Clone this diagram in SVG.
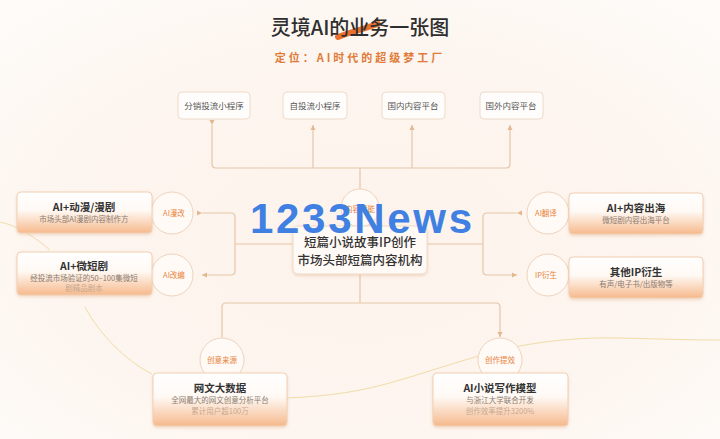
<svg xmlns="http://www.w3.org/2000/svg" width="720" height="439" viewBox="0 0 720 439">
<defs>
<radialGradient id="bg" cx="0.5" cy="0.55" r="0.7">
<stop offset="0" stop-color="#fdf3ec"/>
<stop offset="0.6" stop-color="#fdf5ef"/>
<stop offset="1" stop-color="#fefbf8"/>
</radialGradient>
<linearGradient id="boxg" x1="0" y1="0" x2="0" y2="1">
<stop offset="0" stop-color="#ffffff"/>
<stop offset="0.45" stop-color="#fff9f4"/>
<stop offset="1" stop-color="#f6b98c"/>
</linearGradient>
<filter id="sh" x="-10%" y="-20%" width="120%" height="150%">
<feDropShadow dx="0" dy="1.5" stdDeviation="1.5" flood-color="#d9a27a" flood-opacity="0.35"/>
</filter>
<marker id="ah" viewBox="0 0 6 6" refX="5" refY="3" markerWidth="5" markerHeight="5" orient="auto">
<path d="M0,0.5 L5,3 L0,5.5 z" fill="#e3b891"/>
</marker>
<style>
.cjk{font-family:"Noto Sans CJK SC","Liberation Sans",sans-serif}
.top rect{fill:#fffdfb;stroke:#eedac8;stroke-width:1}
.top text{font-size:8.5px;fill:#555;text-anchor:middle}
.bx{fill:url(#boxg);stroke:#f1cfb3;stroke-width:1;filter:url(#sh)}
.t1{font-size:10.5px;font-weight:bold;fill:#333;text-anchor:middle}
.t2{font-size:7.5px;fill:#8a7b70;text-anchor:middle}
.t3{font-size:7.5px;fill:#c8a890;text-anchor:middle}
.circ{fill:#fffaf6;stroke:#f0d3bb;stroke-width:1}
.ct{font-size:7.5px;fill:#e8823a;text-anchor:middle}
.ln{fill:none;stroke:#e5c6a8;stroke-width:1.2}
.curve{fill:none;stroke:#f1dca8;stroke-width:1}
</style>
</defs>
<rect width="720" height="439" fill="url(#bg)"/>
<g id="deco">
<path class="curve" d="M0,222 C20,226 38,240 50,250"/>
<path class="curve" d="M85,307 C100,335 125,360 152,374"/>
<path class="curve" d="M287,398 C330,396 360,392 400,380 C440,368 470,358 500,350 C540,341 580,337 620,338 C660,339 690,340 720,340"/>
</g>
<g id="title" class="cjk">
<path d="M338,37 C348,33 360,30 378,24" fill="none" stroke="#e8621a" stroke-width="6" stroke-linecap="round" opacity="0.9"/>
<text x="360" y="35" font-size="20" font-weight="500" fill="#2e2e2e" text-anchor="middle">灵境AI的业务一张图</text>
<text x="360" y="62" font-size="11" font-weight="bold" fill="#e07b39" text-anchor="middle" letter-spacing="3">定位：AI时代的超级梦工厂</text>
</g>
<g id="connectors">
<path class="ln" d="M360,192 V168"/>
<path class="ln" d="M212,125 V164 Q212,168 216,168 H506 Q510,168 510,164 V125" marker-start="url(#ah)" marker-end="url(#ah)"/>
<path class="ln" d="M313,168 V125" marker-end="url(#ah)"/>
<path class="ln" d="M412,168 V125" marker-end="url(#ah)"/>
<path class="ln" d="M293,244 H235"/>
<path class="ln" d="M202,213 H231 Q235,213 235,217 V271 Q235,275 231,275 H202" marker-start="url(#ah)" marker-end="url(#ah)"/>
<path class="ln" d="M427,244 H483"/>
<path class="ln" d="M517,213 H487 Q483,213 483,217 V271 Q483,275 487,275 H517" marker-start="url(#ah)" marker-end="url(#ah)"/>
<path class="ln" d="M360,275 V303"/>
<path class="ln" d="M222,337 V307 Q222,303 226,303 H496 Q500,303 500,307 V337" marker-start="url(#ah)" marker-end="url(#ah)"/>
</g>
<g id="n-fenxiao" class="top cjk"><rect x="178" y="92" width="72" height="27" rx="4"/><text x="214" y="108.5">分销投流小程序</text></g>
<g id="n-zitou" class="top cjk"><rect x="283" y="92" width="64" height="27" rx="4"/><text x="315" y="108.5">自投流小程序</text></g>
<g id="n-guonei" class="top cjk"><rect x="382" y="92" width="63" height="27" rx="4"/><text x="413" y="108.5">国内内容平台</text></g>
<g id="n-guowai" class="top cjk"><rect x="480" y="92" width="63" height="27" rx="4"/><text x="511" y="108.5">国外内容平台</text></g>
<g id="c-center" class="cjk"><circle class="circ" cx="360" cy="208" r="19"/><text class="ct" x="360" y="212">内容赋能</text></g>
<g id="n-center" class="cjk">
<rect x="293" y="226" width="134" height="48" rx="5" fill="#fffaf6" stroke="#eedac8" filter="url(#sh)"/>
<text x="360" y="247" font-size="12.5" font-weight="500" fill="#333" text-anchor="middle">短篇小说故事IP创作</text>
<text x="360" y="265" font-size="12.5" font-weight="500" fill="#333" text-anchor="middle">市场头部短篇内容机构</text>
</g>
<g id="c-manggai" class="cjk"><circle class="circ" cx="172" cy="213" r="21"/><text class="ct" x="174" y="216">AI漫改</text></g>
<g id="c-gaibian" class="cjk"><circle class="circ" cx="172" cy="275" r="21"/><text class="ct" x="174" y="278">AI改编</text></g>
<g id="c-fanyi" class="cjk"><circle class="circ" cx="548" cy="213" r="21"/><text class="ct" x="546" y="216">AI翻译</text></g>
<g id="c-yansheng" class="cjk"><circle class="circ" cx="548" cy="275" r="21"/><text class="ct" x="546" y="278">IP衍生</text></g>
<g id="c-chuangyi" class="cjk"><circle class="circ" cx="222" cy="360" r="22"/><text class="ct" x="222" y="363">创意来源</text></g>
<g id="c-tixiao" class="cjk"><circle class="circ" cx="500" cy="360" r="22"/><text class="ct" x="500" y="363">创作提效</text></g>
<g id="n-dongman" class="cjk">
<rect class="bx" x="17" y="192" width="135" height="41" rx="4"/>
<text class="t1" x="84" y="211">AI+动漫/漫剧</text>
<text class="t2" x="84" y="222">市场头部AI漫剧内容制作方</text>
</g>
<g id="n-weiduanju" class="cjk">
<rect class="bx" x="17" y="252" width="135" height="43" rx="4"/>
<text class="t1" x="84" y="270">AI+微短剧</text>
<text class="t2" x="84" y="281">经投流市场验证的50–100集微短</text>
<text class="t3" x="84" y="291">剧精品剧本</text>
</g>
<g id="n-chuhai" class="cjk">
<rect class="bx" x="569" y="193" width="134" height="41" rx="4"/>
<text class="t1" x="636" y="212">AI+内容出海</text>
<text class="t2" x="636" y="223">微短剧内容出海平台</text>
</g>
<g id="n-qita" class="cjk">
<rect class="bx" x="569" y="257" width="134" height="41" rx="4"/>
<text class="t1" x="636" y="276">其他IP衍生</text>
<text class="t2" x="636" y="287">有声/电子书/出版物等</text>
</g>
<g id="n-wangwen" class="cjk">
<rect class="bx" x="153" y="373" width="134" height="53" rx="4"/>
<text class="t1" x="220" y="392">网文大数据</text>
<text class="t2" x="220" y="403">全网最大的网文创意分析平台</text>
<text class="t3" x="220" y="414">累计用户超100万</text>
</g>
<g id="n-moxing" class="cjk">
<rect class="bx" x="433" y="373" width="135" height="53" rx="4"/>
<text class="t1" x="500" y="392">AI小说写作模型</text>
<text class="t2" x="500" y="403">与浙江大学联合开发</text>
<text class="t3" x="500" y="414">创作效率提升3200%</text>
</g>
<g id="watermark">
<text x="250" y="233" font-family="'Liberation Sans',sans-serif" font-weight="bold" font-size="42" fill="#3f80e2" textLength="222" lengthAdjust="spacing">1233News</text>
</g>
</svg>
